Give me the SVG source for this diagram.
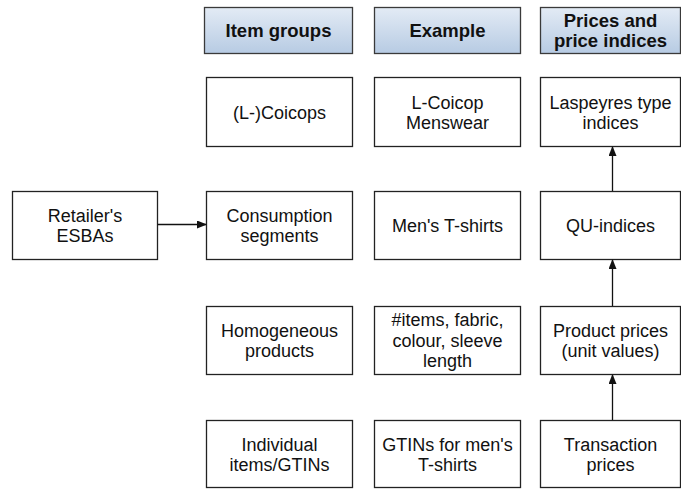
<svg xmlns="http://www.w3.org/2000/svg" width="681" height="489" viewBox="0 0 681 489">
<style>
.box{fill:#fff;stroke:#222;stroke-width:1.3}
.hdr{fill:url(#hg);stroke:#3a3a3a;stroke-width:1.3}
.t{font-family:"Liberation Sans",Arial,sans-serif;font-size:18px;fill:#111;text-anchor:middle}
.h{font-family:"Liberation Sans",Arial,sans-serif;font-size:18.5px;font-weight:bold;fill:#111;text-anchor:middle}
.c{stroke:#111;stroke-width:1.3;fill:none;marker-end:url(#ah)}
</style>
<defs>
<linearGradient id="hg" x1="0" y1="0" x2="0" y2="1">
<stop offset="0" stop-color="#e3ebf5"/>
<stop offset="1" stop-color="#b7cbe3"/>
</linearGradient>
<marker id="ah" markerWidth="10" markerHeight="8" refX="9" refY="4" orient="auto" markerUnits="userSpaceOnUse">
<path d="M0,0 L10,4 L0,8 Z" fill="#111"/>
</marker>
</defs>
<g id="hdr-item"><rect class="hdr" x="204.5" y="7.5" width="148" height="46"/><text class="h" x="278.5" y="37">Item groups</text></g>
<g id="hdr-example"><rect class="hdr" x="374.5" y="7.5" width="146" height="46"/><text class="h" x="447.5" y="37">Example</text></g>
<g id="hdr-prices"><rect class="hdr" x="540.5" y="7.5" width="140" height="46"/><text class="h" x="610.5" y="27">Prices and</text><text class="h" x="610.5" y="47">price indices</text></g>

<g id="coicops"><rect class="box" x="206.5" y="77.5" width="146" height="69"/><text class="t" x="279.5" y="119">(L-)Coicops</text></g>
<g id="menswear"><rect class="box" x="374.5" y="77.5" width="146" height="69"/><text class="t" x="447.5" y="108.5">L-Coicop</text><text class="t" x="447.5" y="129">Menswear</text></g>
<g id="laspeyres"><rect class="box" x="540.5" y="77.5" width="140" height="69"/><text class="t" x="610.5" y="108.5">Laspeyres type</text><text class="t" x="610.5" y="129">indices</text></g>

<g id="retailer"><rect class="box" x="12.5" y="191.5" width="145" height="68"/><text class="t" x="85" y="221.5">Retailer's</text><text class="t" x="85" y="242">ESBAs</text></g>
<g id="consumption"><rect class="box" x="206.5" y="191.5" width="146" height="68"/><text class="t" x="279.5" y="221.5">Consumption</text><text class="t" x="279.5" y="242">segments</text></g>
<g id="tshirts"><rect class="box" x="374.5" y="191.5" width="146" height="68"/><text class="t" x="447.5" y="232">Men's T-shirts</text></g>
<g id="qu"><rect class="box" x="540.5" y="191.5" width="140" height="68"/><text class="t" x="610.5" y="232">QU-indices</text></g>

<g id="homogeneous"><rect class="box" x="206.5" y="306.5" width="146" height="68"/><text class="t" x="279.5" y="336.5">Homogeneous</text><text class="t" x="279.5" y="357">products</text></g>
<g id="items"><rect class="box" x="374.5" y="306.5" width="146" height="68"/><text class="t" x="447.5" y="326">#items, fabric,</text><text class="t" x="447.5" y="346.5">colour, sleeve</text><text class="t" x="447.5" y="367">length</text></g>
<g id="product"><rect class="box" x="540.5" y="306.5" width="140" height="68"/><text class="t" x="610.5" y="336.5">Product prices</text><text class="t" x="610.5" y="357">(unit values)</text></g>

<g id="individual"><rect class="box" x="206.5" y="420.5" width="146" height="67"/><text class="t" x="279.5" y="450.5">Individual</text><text class="t" x="279.5" y="471">items/GTINs</text></g>
<g id="gtins"><rect class="box" x="374.5" y="420.5" width="146" height="67"/><text class="t" x="447.5" y="450.5">GTINs  for men's</text><text class="t" x="447.5" y="471">T-shirts</text></g>
<g id="transaction"><rect class="box" x="540.5" y="420.5" width="140" height="67"/><text class="t" x="610.5" y="450.5">Transaction</text><text class="t" x="610.5" y="471">prices</text></g>

<g id="connectors">
<line class="c" x1="157.5" y1="224.5" x2="206" y2="224.5"/>
<line class="c" x1="612.5" y1="420" x2="612.5" y2="375"/>
<line class="c" x1="612.5" y1="306" x2="612.5" y2="260"/>
<line class="c" x1="612.5" y1="191" x2="612.5" y2="147"/>
</g>
</svg>
